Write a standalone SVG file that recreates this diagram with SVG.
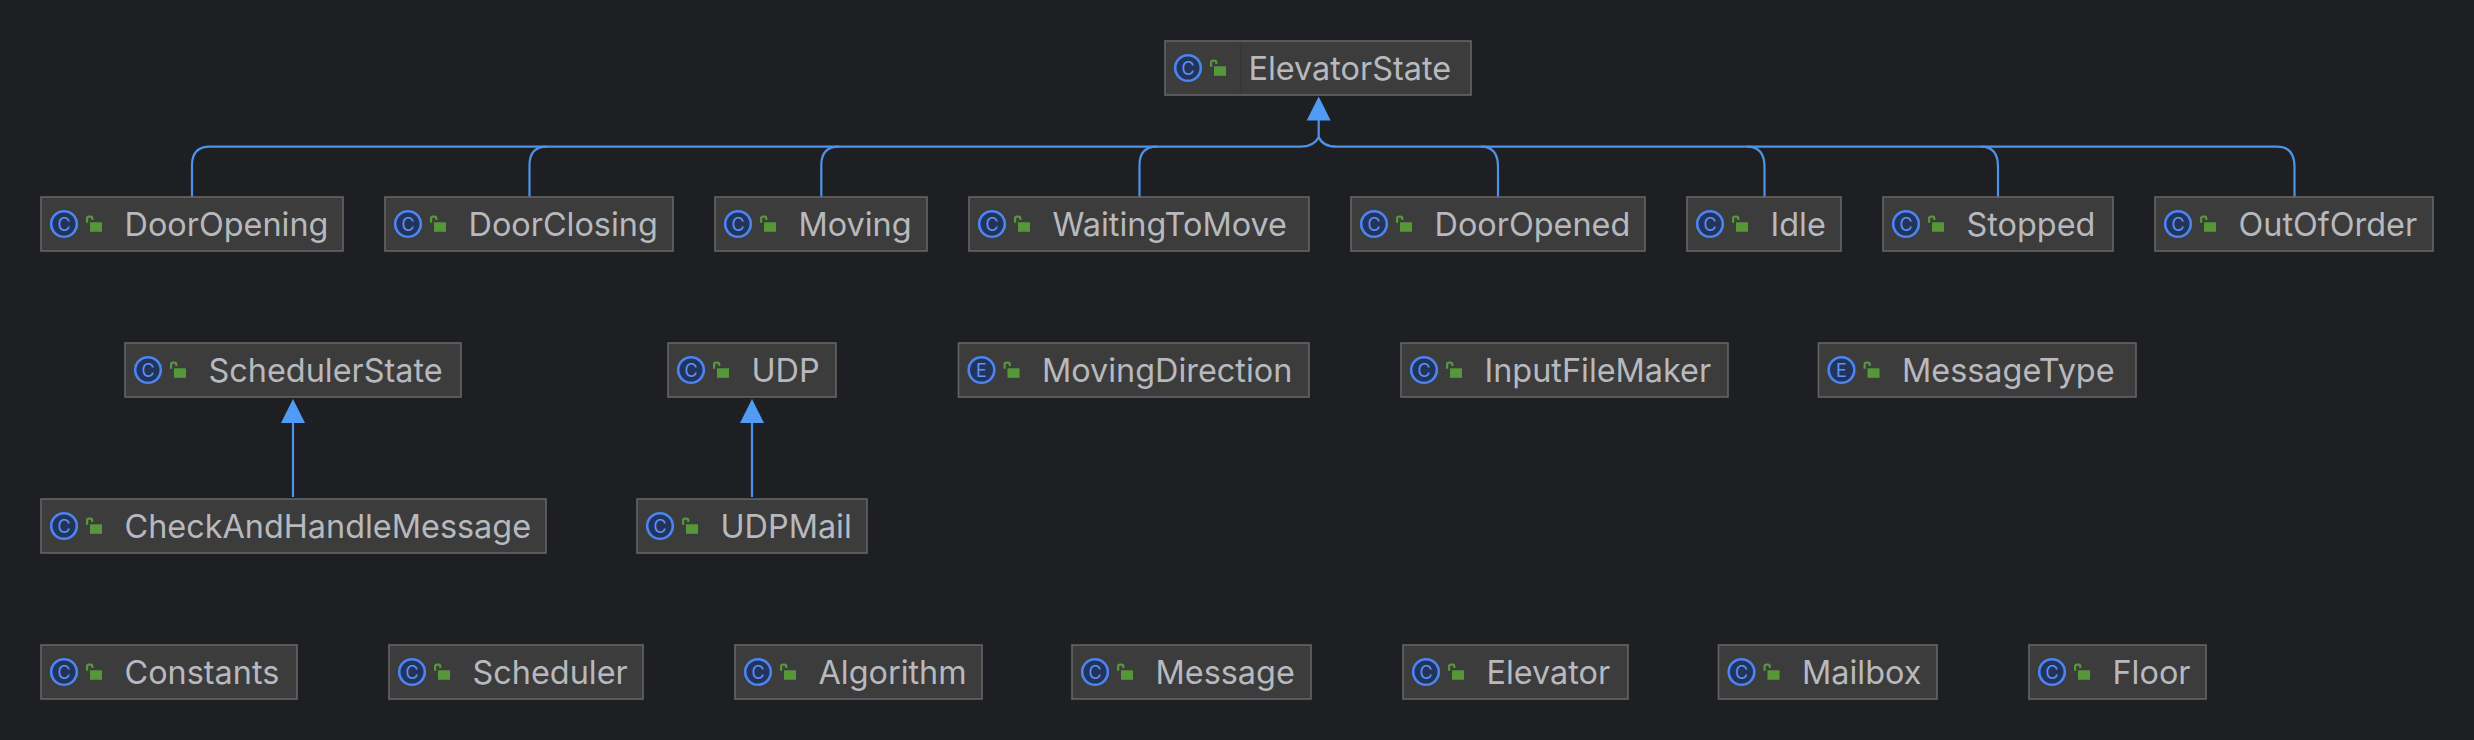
<svg xmlns="http://www.w3.org/2000/svg" xmlns:xlink="http://www.w3.org/1999/xlink" width="2474" height="740" viewBox="0 0 2474 740">
<style>
.box{fill:#3c3c3c;stroke:#646464;stroke-width:1.6}
.lbl{font-family:Inter,"Noto Sans","Liberation Sans",sans-serif;font-size:32.4px;fill:#b8b9be}
.ic{fill:#23345c;stroke:#4c84f0;stroke-width:2.6}
.gl{font-family:Inter,"Liberation Sans",sans-serif;font-size:18px;fill:#5c92f5;text-anchor:middle}
.lk{fill:#569839}
.sh{fill:none;stroke:#569839;stroke-width:2.2}
.ln{fill:none;stroke:#4d93ea;stroke-width:2.2}
.ah{fill:#4f9bf5}
</style>
<defs>
<g id="lock"><path class="sh" d="M1.100 -1.300V-5.500Q1.100 -7.300 3 -7.300H4.500Q6.300 -7.300 6.300 -5.500V-4"/><rect class="lk" x="4" y="-1.700" width="12" height="9.500"/></g>
<path id="tri" class="ah" d="M0 0L12 24H-12Z"/>
</defs>
<rect width="2474" height="740" fill="#1e1f22"/>
<g id="connectors">
<path class="ln" d="M1318.7 118V137C1316 143 1310 146.700 1300 146.700H210C198 146.700 192 153 192 165V197"/>
<path class="ln" d="M529.500 197V165C529.500 153 535 146.700 547 146.700"/>
<path class="ln" d="M821.300 197V165C821.300 153 827 146.700 839 146.700"/>
<path class="ln" d="M1139.500 197V165C1139.500 153 1145 146.700 1157 146.700"/>
<path class="ln" d="M1318.7 137C1321 143 1327 146.700 1337 146.700H2277C2288 146.700 2294.500 153 2294.500 167V197"/>
<path class="ln" d="M1481 146.700C1492 146.700 1498 153 1498 167V197"/>
<path class="ln" d="M1747 146.700C1758 146.700 1764.500 153 1764.500 167V197"/>
<path class="ln" d="M1981 146.700C1992 146.700 1998 153 1998 167V197"/>
<use xlink:href="#tri" href="#tri" x="1318.7" y="96.500"/>
<path class="ln" d="M293 420V497"/>
<use xlink:href="#tri" href="#tri" x="293" y="399"/>
<path class="ln" d="M752 420V497"/>
<use xlink:href="#tri" href="#tri" x="752" y="399"/>
</g>
<g id="ElevatorState"><rect class="box" x="1165" y="41" width="306" height="54"/><path d="M1240.500 42V94" stroke="#353535" stroke-width="1.5"/><circle class="ic" cx="1188" cy="68" r="12.800"/><text class="gl" x="1188" y="74.500">C</text><use href="#lock" x="1210" y="68"/><text class="lbl" x="1248.500" y="80">ElevatorState</text></g>
<g id="DoorOpening"><rect class="box" x="41" y="197" width="302" height="54"/><circle class="ic" cx="64" cy="224" r="12.800"/><text class="gl" x="64" y="230.500">C</text><use href="#lock" x="86" y="224"/><text class="lbl" x="124.500" y="236">DoorOpening</text></g>
<g id="DoorClosing"><rect class="box" x="385" y="197" width="288" height="54"/><circle class="ic" cx="408" cy="224" r="12.800"/><text class="gl" x="408" y="230.500">C</text><use href="#lock" x="430" y="224"/><text class="lbl" x="468.500" y="236">DoorClosing</text></g>
<g id="Moving"><rect class="box" x="715" y="197" width="212" height="54"/><circle class="ic" cx="738" cy="224" r="12.800"/><text class="gl" x="738" y="230.500">C</text><use href="#lock" x="760" y="224"/><text class="lbl" x="798.500" y="236">Moving</text></g>
<g id="WaitingToMove"><rect class="box" x="969" y="197" width="340" height="54"/><circle class="ic" cx="992" cy="224" r="12.800"/><text class="gl" x="992" y="230.500">C</text><use href="#lock" x="1014" y="224"/><text class="lbl" x="1052.500" y="236">WaitingToMove</text></g>
<g id="DoorOpened"><rect class="box" x="1351" y="197" width="294" height="54"/><circle class="ic" cx="1374" cy="224" r="12.800"/><text class="gl" x="1374" y="230.500">C</text><use href="#lock" x="1396" y="224"/><text class="lbl" x="1434.500" y="236">DoorOpened</text></g>
<g id="Idle"><rect class="box" x="1687" y="197" width="154" height="54"/><circle class="ic" cx="1710" cy="224" r="12.800"/><text class="gl" x="1710" y="230.500">C</text><use href="#lock" x="1732" y="224"/><text class="lbl" x="1770.500" y="236">Idle</text></g>
<g id="Stopped"><rect class="box" x="1883" y="197" width="230" height="54"/><circle class="ic" cx="1906" cy="224" r="12.800"/><text class="gl" x="1906" y="230.500">C</text><use href="#lock" x="1928" y="224"/><text class="lbl" x="1966.500" y="236">Stopped</text></g>
<g id="OutOfOrder"><rect class="box" x="2155" y="197" width="278" height="54"/><circle class="ic" cx="2178" cy="224" r="12.800"/><text class="gl" x="2178" y="230.500">C</text><use href="#lock" x="2200" y="224"/><text class="lbl" x="2238.500" y="236">OutOfOrder</text></g>
<g id="SchedulerState"><rect class="box" x="125" y="343" width="336" height="54"/><circle class="ic" cx="148" cy="370" r="12.800"/><text class="gl" x="148" y="376.500">C</text><use href="#lock" x="170" y="370"/><text class="lbl" x="208.500" y="382">SchedulerState</text></g>
<g id="UDP"><rect class="box" x="668" y="343" width="168" height="54"/><circle class="ic" cx="691" cy="370" r="12.800"/><text class="gl" x="691" y="376.500">C</text><use href="#lock" x="713" y="370"/><text class="lbl" x="751.500" y="382">UDP</text></g>
<g id="MovingDirection"><rect class="box" x="958.500" y="343" width="350.500" height="54"/><circle class="ic" cx="981.500" cy="370" r="12.800"/><text class="gl" x="981.500" y="376.500">E</text><use href="#lock" x="1003.500" y="370"/><text class="lbl" x="1042" y="382">MovingDirection</text></g>
<g id="InputFileMaker"><rect class="box" x="1401" y="343" width="327" height="54"/><circle class="ic" cx="1424" cy="370" r="12.800"/><text class="gl" x="1424" y="376.500">C</text><use href="#lock" x="1446" y="370"/><text class="lbl" x="1484.500" y="382">InputFileMaker</text></g>
<g id="MessageType"><rect class="box" x="1818.500" y="343" width="317.500" height="54"/><circle class="ic" cx="1841.500" cy="370" r="12.800"/><text class="gl" x="1841.500" y="376.500">E</text><use href="#lock" x="1863.500" y="370"/><text class="lbl" x="1902" y="382">MessageType</text></g>
<g id="CheckAndHandleMessage"><rect class="box" x="41" y="499" width="505" height="54"/><circle class="ic" cx="64" cy="526" r="12.800"/><text class="gl" x="64" y="532.500">C</text><use href="#lock" x="86" y="526"/><text class="lbl" x="124.500" y="538">CheckAndHandleMessage</text></g>
<g id="UDPMail"><rect class="box" x="637" y="499" width="230" height="54"/><circle class="ic" cx="660" cy="526" r="12.800"/><text class="gl" x="660" y="532.500">C</text><use href="#lock" x="682" y="526"/><text class="lbl" x="720.500" y="538">UDPMail</text></g>
<g id="Constants"><rect class="box" x="41" y="645" width="256" height="54"/><circle class="ic" cx="64" cy="672" r="12.800"/><text class="gl" x="64" y="678.500">C</text><use href="#lock" x="86" y="672"/><text class="lbl" x="124.500" y="684">Constants</text></g>
<g id="Scheduler"><rect class="box" x="389" y="645" width="254" height="54"/><circle class="ic" cx="412" cy="672" r="12.800"/><text class="gl" x="412" y="678.500">C</text><use href="#lock" x="434" y="672"/><text class="lbl" x="472.500" y="684">Scheduler</text></g>
<g id="Algorithm"><rect class="box" x="735" y="645" width="247" height="54"/><circle class="ic" cx="758" cy="672" r="12.800"/><text class="gl" x="758" y="678.500">C</text><use href="#lock" x="780" y="672"/><text class="lbl" x="818.500" y="684">Algorithm</text></g>
<g id="Message"><rect class="box" x="1072" y="645" width="239" height="54"/><circle class="ic" cx="1095" cy="672" r="12.800"/><text class="gl" x="1095" y="678.500">C</text><use href="#lock" x="1117" y="672"/><text class="lbl" x="1155.500" y="684">Message</text></g>
<g id="Elevator"><rect class="box" x="1403" y="645" width="225" height="54"/><circle class="ic" cx="1426" cy="672" r="12.800"/><text class="gl" x="1426" y="678.500">C</text><use href="#lock" x="1448" y="672"/><text class="lbl" x="1486.500" y="684">Elevator</text></g>
<g id="Mailbox"><rect class="box" x="1718.500" y="645" width="218.500" height="54"/><circle class="ic" cx="1741.500" cy="672" r="12.800"/><text class="gl" x="1741.500" y="678.500">C</text><use href="#lock" x="1763.500" y="672"/><text class="lbl" x="1802" y="684">Mailbox</text></g>
<g id="Floor"><rect class="box" x="2029" y="645" width="177" height="54"/><circle class="ic" cx="2052" cy="672" r="12.800"/><text class="gl" x="2052" y="678.500">C</text><use href="#lock" x="2074" y="672"/><text class="lbl" x="2112.500" y="684">Floor</text></g>
</svg>
